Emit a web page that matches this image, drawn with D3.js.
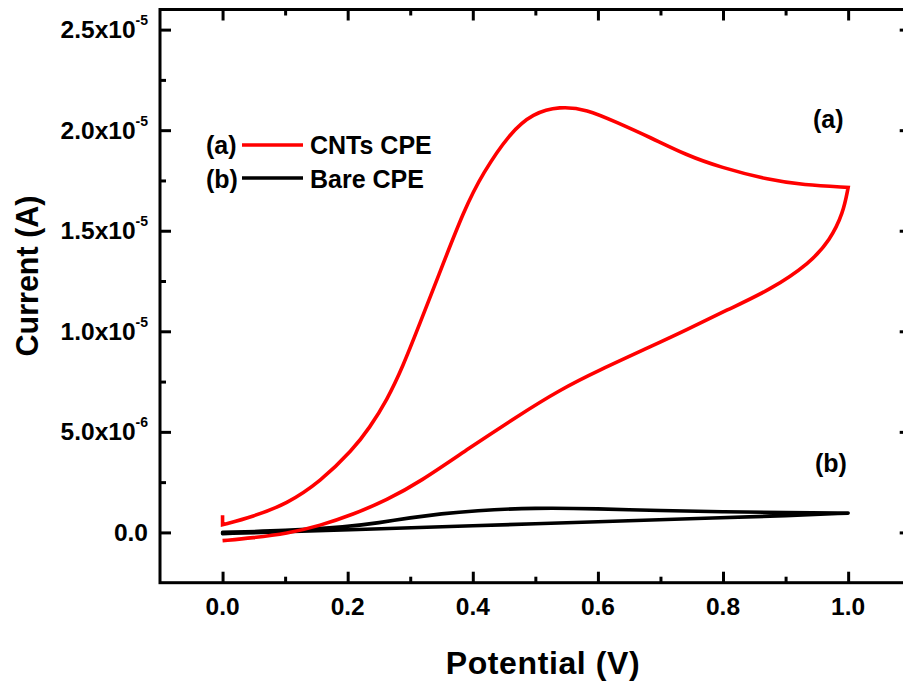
<!DOCTYPE html>
<html>
<head>
<meta charset="utf-8">
<script src="https://cdn.jsdelivr.net/npm/d3@7"></script>
<style>
  html, body { margin: 0; padding: 0; background: #fff; }
  svg { display: block; }
  text { font-family: "Liberation Sans", Arial, Helvetica, sans-serif; font-weight: bold; fill: #000; }
</style>
</head>
<body>
<svg id="chart" width="903" height="684"></svg>
<script>
// Cyclic voltammograms: potential (V) vs current (µA; axis labelled in A)
// (a) CNTs modified carbon paste electrode
const cntsPotential = [0.000, 0.000, 0.048, 0.103, 0.156, 0.208, 0.235, 0.263, 0.288, 0.315, 0.344, 0.387, 0.416, 0.459, 0.496, 0.539, 0.582, 0.630, 0.683, 0.742, 0.795, 0.875, 0.928, 1.000,
                       0.992, 0.971, 0.939, 0.875, 0.806, 0.742, 0.683, 0.603, 0.539, 0.470, 0.395, 0.315, 0.263, 0.208, 0.156, 0.103, 0.048, 0.000];
const cntsCurrentUA = [0.85, 0.38, 0.78, 1.42, 2.52, 4.10, 5.20, 6.59, 8.23, 10.36, 12.67, 16.11, 17.86, 19.85, 20.84, 21.19, 21.04, 20.39, 19.65, 18.75, 18.16, 17.51, 17.28, 17.15,
                       15.87, 14.53, 13.39, 12.05, 11.06, 10.07, 9.22, 8.08, 7.09, 5.75, 4.21, 2.50, 1.62, 0.88, 0.34, -0.06, -0.27, -0.41];
const cntsCorners = [1, 23];   // switching points where the trace turns sharply

// (b) bare carbon paste electrode
const barePotential = [0.00, 0.10, 0.20, 0.25, 0.30, 0.35, 0.40, 0.50, 0.60, 0.70, 0.80, 0.90, 1.00,
                       0.90, 0.80, 0.60, 0.40, 0.20, 0.10, 0.00];
const bareCurrentUA = [0.00, 0.08, 0.28, 0.48, 0.73, 0.93, 1.08, 1.23, 1.18, 1.08, 1.03, 0.98, 0.96,
                       0.83, 0.73, 0.53, 0.33, 0.13, 0.03, -0.06];
const bareCorners = [12];

// Axis ticks
const xMajorTicks = [0.0, 0.2, 0.4, 0.6, 0.8, 1.0];
const xMinorTicks = [0.1, 0.3, 0.5, 0.7, 0.9];
const xTickLabels = ["0.0", "0.2", "0.4", "0.6", "0.8", "1.0"];
const yMajorTicksA = [0, 5e-6, 1e-5, 1.5e-5, 2e-5, 2.5e-5];
const yMinorTicksA = [2.5e-6, 7.5e-6, 1.25e-5, 1.75e-5, 2.25e-5];
const yTickMantissa = ["0.0", "5.0x10", "1.0x10", "1.5x10", "2.0x10", "2.5x10"];
const yTickExponent = ["", "-6", "-5", "-5", "-5", "-5"];

const legendKeys = ["(a)", "(b)"];
const legendNames = ["CNTs CPE", "Bare CPE"];
const seriesColors = ["#ff0000", "#000000"];

const svg = d3.select("#chart");
const frame = { left: 160, right: 910.7, top: 9.5, bottom: 582.7 };

const x = d3.scaleLinear().domain([-0.1, 1.1]).range([frame.left, frame.right]);
const y = d3.scaleLinear().domain([-2.5e-6, 2.6e-5]).range([frame.bottom, frame.top]);

// B-spline through the trace; corner vertices are repeated so the spline passes through them sharply
function toPoints(xs, ys, corners) {
  const pts = [];
  xs.forEach((v, i) => {
    const p = [v, ys[i] * 1e-6];
    const n = corners.includes(i) ? 3 : 1;
    for (let k = 0; k < n; k++) pts.push(p);
  });
  return pts;
}
const line = d3.line()
  .x(d => x(d[0]))
  .y(d => y(d[1]))
  .curve(d3.curveBasis);

const plot = svg.append("g");

plot.append("path")
  .attr("d", line(toPoints(barePotential, bareCurrentUA, bareCorners)))
  .attr("fill", "none").attr("stroke", seriesColors[1])
  .attr("stroke-width", 3.6).attr("stroke-linejoin", "round").attr("stroke-linecap", "round");
plot.append("path")
  .attr("d", line(toPoints(cntsPotential, cntsCurrentUA, cntsCorners)))
  .attr("fill", "none").attr("stroke", seriesColors[0])
  .attr("stroke-width", 3.6).attr("stroke-linejoin", "miter").attr("stroke-linecap", "butt");

// axes with inward ticks on all four sides
function styleAxis(g) {
  g.select(".domain").remove();
  g.selectAll(".tick line").attr("stroke", "#000").attr("stroke-width", 3);
  g.selectAll(".tick text").remove();
}
const majorLen = 11, minorLen = 6;
[[d3.axisBottom(x), `translate(0,${frame.bottom})`, xMajorTicks, xMinorTicks],
 [d3.axisTop(x), `translate(0,${frame.top})`, xMajorTicks, xMinorTicks],
 [d3.axisLeft(y), `translate(${frame.left},0)`, yMajorTicksA, yMinorTicksA],
 [d3.axisRight(y), `translate(${frame.right},0)`, yMajorTicksA, yMinorTicksA]
].forEach(([axis, tr, maj, min]) => {
  svg.append("g").attr("transform", tr)
    .call(axis.tickValues(maj).tickSizeInner(-majorLen).tickSizeOuter(0).tickFormat(""))
    .call(styleAxis);
  svg.append("g").attr("transform", tr)
    .call(axis.tickValues(min).tickSizeInner(-minorLen).tickSizeOuter(0).tickFormat(""))
    .call(styleAxis);
});

// frame
svg.append("rect")
  .attr("x", frame.left).attr("y", frame.top)
  .attr("width", frame.right - frame.left).attr("height", frame.bottom - frame.top)
  .attr("fill", "none").attr("stroke", "#000").attr("stroke-width", 3);

// x tick labels
svg.append("g").selectAll("text").data(xMajorTicks).join("text")
  .attr("x", d => x(d)).attr("y", 615)
  .attr("text-anchor", "middle").attr("font-size", 24.5)
  .text((d, i) => xTickLabels[i]);

// y tick labels with superscript exponents
const yl = svg.append("g").selectAll("text").data(yMajorTicksA).join("text")
  .attr("x", 148).attr("y", d => y(d) + 8.5)
  .attr("text-anchor", "end").attr("font-size", 24.5);
yl.append("tspan").text((d, i) => yTickMantissa[i]);
yl.filter((d, i) => yTickExponent[i] !== "").append("tspan")
  .attr("dy", -13).attr("font-size", 14)
  .text(d => yTickExponent[yMajorTicksA.indexOf(d)]);

// axis titles
svg.append("text")
  .attr("x", 543).attr("y", 674).attr("text-anchor", "middle").attr("font-size", 32)
  .attr("letter-spacing", 0.6)
  .text("Potential (V)");
svg.append("text")
  .attr("transform", "translate(38,276) rotate(-90)")
  .attr("text-anchor", "middle").attr("font-size", 30.5)
  .text("Current (A)");

// legend
const legendRows = [{ ly: 145, ty: 154 }, { ly: 178, ty: 188 }];
legendRows.forEach((r, i) => {
  svg.append("text").attr("x", 206).attr("y", r.ty).attr("font-size", 25).text(legendKeys[i]);
  svg.append("line").attr("x1", 242).attr("x2", 303).attr("y1", r.ly).attr("y2", r.ly)
    .attr("stroke", seriesColors[i]).attr("stroke-width", 3.6);
  svg.append("text").attr("x", 310).attr("y", r.ty).attr("font-size", 25).text(legendNames[i]);
});

// curve annotations
svg.append("text").attr("x", 813).attr("y", 128).attr("font-size", 25).text("(a)");
svg.append("text").attr("x", 815).attr("y", 472).attr("font-size", 25).text("(b)");
</script>
</body>
</html>
